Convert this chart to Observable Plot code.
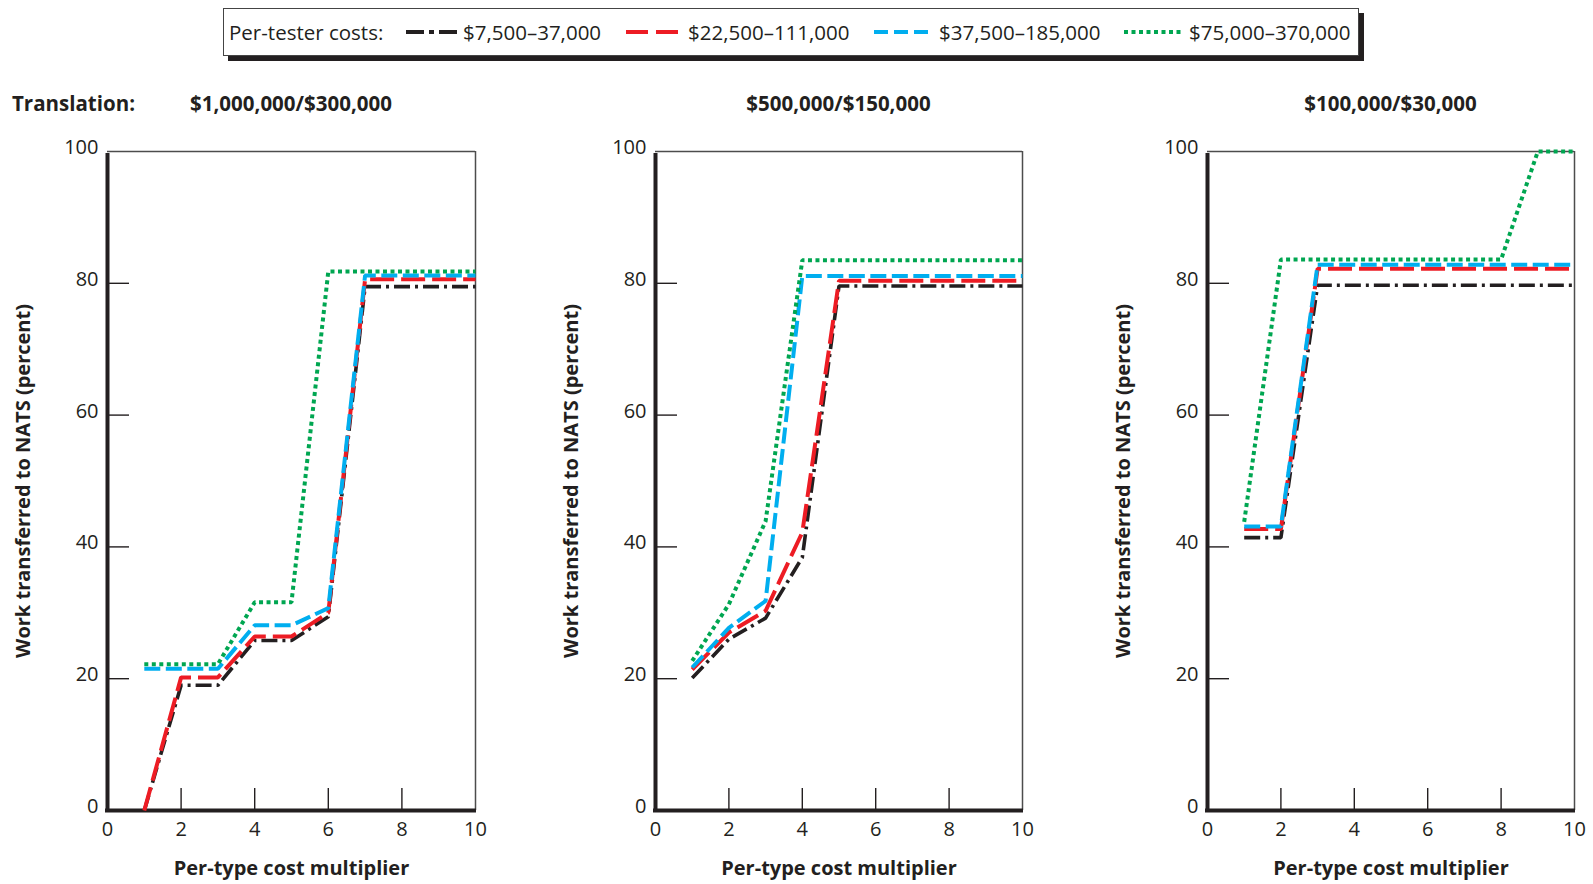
<!DOCTYPE html>
<html><head><meta charset="utf-8">
<script src="https://cdn.jsdelivr.net/npm/d3@7"></script>
<script src="https://cdn.jsdelivr.net/npm/@observablehq/plot@0.6"></script>
<style>
body{margin:0;background:#fff;font-family:"Open Sans",sans-serif;color:#231f20;}
#wrap{position:relative;width:1593px;height:884px;overflow:hidden;background:#fff;}
.abs{position:absolute;white-space:nowrap;}
#legend{position:absolute;left:223px;top:8px;width:1134px;height:46px;border:1.5px solid #444;box-shadow:5px 5px 0 #231f20;background:#fff;}
.lg{position:absolute;top:0;height:46px;line-height:46px;font-size:20.5px;}
.title{font-weight:bold;font-size:20.5px;top:89px;line-height:28px;}
</style></head><body><div id="wrap"></div>
<script>
const multipliers = [1, 2, 3, 4, 5, 6, 7, 8, 9, 10];
const seriesNames = ["$7,500–37,000", "$22,500–111,000", "$37,500–185,000", "$75,000–370,000"];
const seriesColors = ["#231f20", "#ed1c24", "#00aeef", "#00a651"];
const seriesDashes = ["16,5,3,5", "24,7", "16,5.5", "4,3.5"];
const panelTitles = ["$1,000,000/$300,000", "$500,000/$150,000", "$100,000/$30,000"];
const xTicks = [0, 2, 4, 6, 8, 10];
const yTicks = [0, 20, 40, 60, 80, 100];
const xTickMarks = [2, 4, 6, 8];
const yTickMarks = [20, 40, 60, 80];

// Panel 1: Translation $1,000,000/$300,000
const p1Low  = [0, 19.0, 19.0, 25.8, 25.8, 29.4, 79.5, 79.5, 79.5, 79.5];
const p1Mid  = [0, 20.2, 20.2, 26.4, 26.4, 30.0, 80.6, 80.6, 80.6, 80.6];
const p1High = [21.5, 21.5, 21.5, 28.1, 28.1, 30.7, 81.2, 81.2, 81.2, 81.2];
const p1Top  = [22.2, 22.2, 22.2, 31.6, 31.6, 81.8, 81.8, 81.8, 81.8, 81.8];
// Panel 2: $500,000/$150,000
const p2Low  = [20.1, 26.0, 29.2, 38.4, 79.6, 79.6, 79.6, 79.6, 79.6, 79.6];
const p2Mid  = [21.4, 27.0, 30.3, 42.2, 80.4, 80.4, 80.4, 80.4, 80.4, 80.4];
const p2High = [21.7, 27.7, 31.8, 81.1, 81.1, 81.1, 81.1, 81.1, 81.1, 81.1];
const p2Top  = [22.7, 31.3, 43.9, 83.5, 83.5, 83.5, 83.5, 83.5, 83.5, 83.5];
// Panel 3: $100,000/$30,000
const p3Low  = [41.4, 41.4, 79.7, 79.7, 79.7, 79.7, 79.7, 79.7, 79.7, 79.7];
const p3Mid  = [42.7, 42.7, 82.2, 82.2, 82.2, 82.2, 82.2, 82.2, 82.2, 82.2];
const p3High = [43.1, 43.1, 82.8, 82.8, 82.8, 82.8, 82.8, 82.8, 82.8, 82.8];
const p3Top  = [43.8, 83.6, 83.6, 83.6, 83.6, 83.6, 83.6, 83.6, 100, 100];

const panels = [
  {title: panelTitles[0], series: [p1Low, p1Mid, p1High, p1Top], left: 0, width: 540, mr: 65},
  {title: panelTitles[1], series: [p2Low, p2Mid, p2High, p2Top], left: 548, width: 539, mr: 65},
  {title: panelTitles[2], series: [p3Low, p3Mid, p3High, p3Top], left: 1100, width: 493, mr: 19}
];

const wrap = document.getElementById("wrap");
const FONT = '"Open Sans", sans-serif';

// Legend
const legend = document.createElement("div");
legend.id = "legend";
wrap.appendChild(legend);
function addLg(html, left) {
  const d = document.createElement("div");
  d.className = "lg";
  d.style.left = left + "px";
  d.innerHTML = html;
  legend.appendChild(d);
}
addLg("Per-tester costs:", 5);
const swLeft = [182, 402, 650, 900];
const txLeft = [239, 464, 715, 965];
const swDash = ["18,5,5,5", "22,8", "14,6", "4,3.5"];
seriesNames.forEach((name, i) => {
  const w = i === 3 ? 60 : 54;
  addLg(`<svg width="${w}" height="46" style="display:block"><line x1="0" x2="${w}" y1="23" y2="23" stroke="${seriesColors[i]}" stroke-width="3.8" stroke-dasharray="${swDash[i]}"/></svg>`, swLeft[i]);
  addLg(name, txLeft[i]);
});

// Translation label
const tr = document.createElement("div");
tr.className = "abs title";
tr.style.left = "12px";
tr.textContent = "Translation:";
wrap.appendChild(tr);

panels.forEach((p, pi) => {
  const rows = [];
  p.series.forEach((vals, si) => vals.forEach((v, k) => rows.push({x: multipliers[k], y: v, s: si})));
  const plotW = p.width - 107 - p.mr;
  const plotH = 659;
  const marks = [
    Plot.axisX(xTicks, {tickSize: 0, tickPadding: 11, fontSize: 20, fill: "#231f20", label: null}),
    Plot.axisY(yTicks, {tickSize: 0, tickPadding: 9, fontSize: 20, dy: -4, fill: "#231f20", label: null}),
    Plot.tickY(yTickMarks, {y: d => d, insetRight: plotW - 22, stroke: "#231f20", strokeWidth: 1.4}),
    Plot.tickX(xTickMarks, {x: d => d, insetTop: plotH - 22, stroke: "#231f20", strokeWidth: 1.4}),
    Plot.ruleY([100], {stroke: "#4d4d4d", strokeWidth: 1.5}),
    Plot.ruleX([10], {stroke: "#4d4d4d", strokeWidth: 1.5}),
    Plot.ruleX([0], {stroke: "#231f20", strokeWidth: 4, y1: 0, y2: 100, insetBottom: -2}),
    Plot.ruleY([0], {stroke: "#231f20", strokeWidth: 4, x1: 0, x2: 10, insetLeft: -2, insetRight: -1})
  ];
  for (let si = 0; si < 4; si++) {
    marks.push(Plot.line(rows.filter(r => r.s === si), {
      x: "x", y: "y", stroke: seriesColors[si], strokeWidth: si === 0 ? 3.6 : 4,
      strokeDasharray: seriesDashes[si], strokeLinejoin: "miter", strokeLinecap: "butt", curve: "linear"
    }));
  }
  marks.push(Plot.text(["Work transferred to NATS (percent)"], {
    frameAnchor: "left", rotate: -90, dx: -84, text: d => d,
    fontWeight: "bold", fontSize: 20, fill: "#231f20", lineAnchor: "middle", textAnchor: "middle"
  }));
  marks.push(Plot.text(["Per-type cost multiplier"], {
    frameAnchor: "bottom", dy: 58, text: d => d,
    fontWeight: "bold", fontSize: 20, fill: "#231f20", lineAnchor: "middle", textAnchor: "middle"
  }));
  const chart = Plot.plot({
    width: p.width, height: 764,
    marginLeft: 107, marginRight: p.mr, marginTop: 31, marginBottom: 74,
    x: {domain: [0, 10], axis: null},
    y: {domain: [0, 100], axis: null},
    style: {fontFamily: FONT, fontSize: "20px", background: "transparent", color: "#231f20", overflow: "visible"},
    marks
  });
  chart.style.position = "absolute";
  chart.style.left = p.left + "px";
  chart.style.top = "120px";
  wrap.appendChild(chart);

  const t = document.createElement("div");
  t.className = "abs title";
  t.textContent = p.title;
  const cx = p.left + 107 + plotW / 2;
  t.style.left = cx + "px";
  t.style.transform = "translateX(-50%)";
  wrap.appendChild(t);
});
</script></body></html>
